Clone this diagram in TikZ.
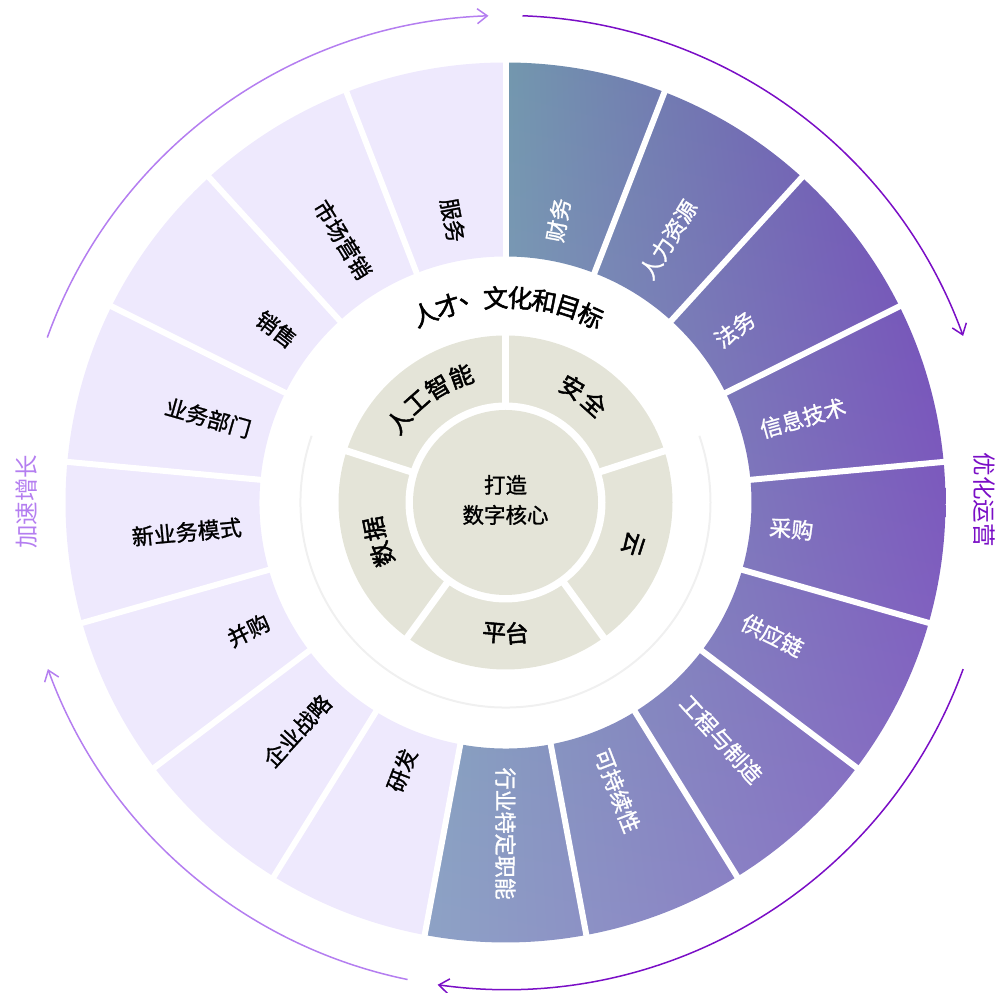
\documentclass[tikz,border=0pt]{standalone}
\usepackage{fontspec}
\setmainfont{Noto Sans CJK SC}
\newfontfamily\medA[FakeBold=1.2]{Noto Sans CJK SC}
\newfontfamily\medB[FakeBold=2]{Noto Sans CJK SC}
\usetikzlibrary{arrows.meta,shadings}
\definecolor{lav}{HTML}{EEE9FD}
\definecolor{beige}{HTML}{E4E4D8}
\definecolor{faint}{HTML}{F0F0F0}
\definecolor{lp}{HTML}{B47EF0}
\definecolor{dp}{HTML}{7A0EC6}
\definecolor{gUL}{HTML}{73A6AC}
\definecolor{gUR}{HTML}{6F47B6}
\definecolor{gLL}{HTML}{8EA2C6}
\definecolor{gLR}{HTML}{8A6CC5}
\tikzset{
  outR/.style={anchor=west, text=white, inner sep=0pt, font=\medA\fontsize{22}{22}\selectfont},
  outL/.style={anchor=east, text=black, inner sep=0pt, font=\medA\fontsize{22}{22}\selectfont},
  arcT/.style={inner sep=0pt, text=black, font=\medB\fontsize{25}{25}\selectfont},
  innerT/.style={inner sep=0pt, text=black, font=\medB\fontsize{24}{24}\selectfont},
  sideT/.style={inner sep=0pt, font=\fontsize{23.5}{23.5}\selectfont},
  arrL/.style={draw=lp, line width=1.5pt, -{Straight Barb[length=10pt,width=15pt]}},
  arrD/.style={draw=dp, line width=1.5pt, -{Straight Barb[length=10pt,width=15pt]}},
  sep/.style={white, line width=6pt},
  isep/.style={white, line width=7pt}
}
\begin{document}
\begin{tikzpicture}[x=1pt,y=1pt]
\useasboundingbox (0,0) rectangle (1002,993);
\begin{scope}[shift={(505.5,490.5)}]
% left segments
\fill[lav] (90:440) arc[start angle=90,end angle=259.41,radius=440] -- (259.41:246) arc[start angle=259.41,end angle=90,radius=246] -- cycle;
% right segments (gradient)
\begin{scope}
\clip (90:440) arc[start angle=90,end angle=-100.59,radius=440] -- (-100.59:246) arc[start angle=-100.59,end angle=90,radius=246] -- cycle;
\shade[shading=bilinear interpolation, upper left=gUL, upper right=gUR, lower left=gLL, lower right=gLR] (-80,-445) rectangle (445,445);
\end{scope}
% separators
\foreach \k in {0,...,16} \draw[sep] ({90-\k*360/17}:238) -- ({90-\k*360/17}:448);
% faint circle
\draw[faint, line width=2pt] (161:205) arc[start angle=161,end angle=379,radius=205];
% inner ring
\fill[beige] (0,0) circle[radius=167];
\fill[white] (0,0) circle[radius=100];
\fill[beige] (0,0) circle[radius=92.5];
\foreach \k in {0,...,4} \draw[isep] ({90-\k*72}:97) -- ({90-\k*72}:170);
% outer labels
\foreach \t [count=\k from 0] in {财务,人力资源,法务,信息技术,采购,供应链,工程与制造,可持续性,行业特定职能} {
  \pgfmathsetmacro\a{90-(\k+0.5)*360/17}
  \node[outR, rotate=\a] (r\k) at (\a:265) {\t};
}
\foreach \t [count=\k from 9] in {研发,企业战略,并购,新业务模式,业务部门,销售,市场营销,服务} {
  \pgfmathsetmacro\a{90-(\k+0.5)*360/17}
  \node[outL, rotate=\a+180] (l\k) at (\a:265) {\t};
}
% curved title
\foreach \c [count=\i from 0] in {人,才,、,文,化,和,目,标} {
  \pgfmathsetmacro\a{89.35+(3.5-\i)*6.82}
  \node[arcT, rotate=\a-90] (t\i) at (\a:205) {\c};
}
% inner ring labels
\foreach \c [count=\i from 0] in {人,工,智,能} {
  \pgfmathsetmacro\a{126+(1.5-\i)*11.1}
  \node[innerT, rotate=\a-90] (ai\i) at (\a:134) {\c};
}
\foreach \c [count=\i from 0] in {安,全} {
  \pgfmathsetmacro\a{54+(0.5-\i)*12}
  \node[innerT, rotate=\a-90] (aq\i) at (\a:133) {\c};
}
\node[innerT, rotate=-108] (yun) at (-18:134) {云};
\foreach \c [count=\i from 0] in {平,台} {
  \pgfmathsetmacro\a{-90+(\i-0.5)*9.9}
  \node[innerT, rotate=\a+90] (pt\i) at (\a:131) {\c};
}
\foreach \c [count=\i from 0] in {数,据} {
  \pgfmathsetmacro\a{197+(0.5-\i)*11.5}
  \node[innerT, rotate=\a-90] (sj\i) at (\a:134) {\c};
}
% core
\node[inner sep=0pt, align=center, font=\medA\fontsize{21.5}{30}\selectfont] (core) at (0,2.5) {打造\\数字核心};
% side labels
\node[sideT, text=lp, rotate=90] (grow) at (-478.5,0.5) {加速增长};
\node[sideT, text=dp, rotate=-90] (opt) at (478.5,2.5) {优化运营};
% arrows
\coordinate (a1) at (160.2:487);
\coordinate (a2) at (88:487);
\coordinate (a3) at (-20:487);
\coordinate (a4) at (-101.6:487);
\draw[arrL] (a1) arc[start angle=160.2,end angle=92,radius=487];
\draw[arrD] (a2) arc[start angle=88,end angle=20,radius=487];
\draw[arrD] (a3) arc[start angle=-20,end angle=-98,radius=487];
\draw[arrL] (a4) arc[start angle=-101.6,end angle=-160,radius=487];
\end{scope}
\end{tikzpicture}
\end{document}
